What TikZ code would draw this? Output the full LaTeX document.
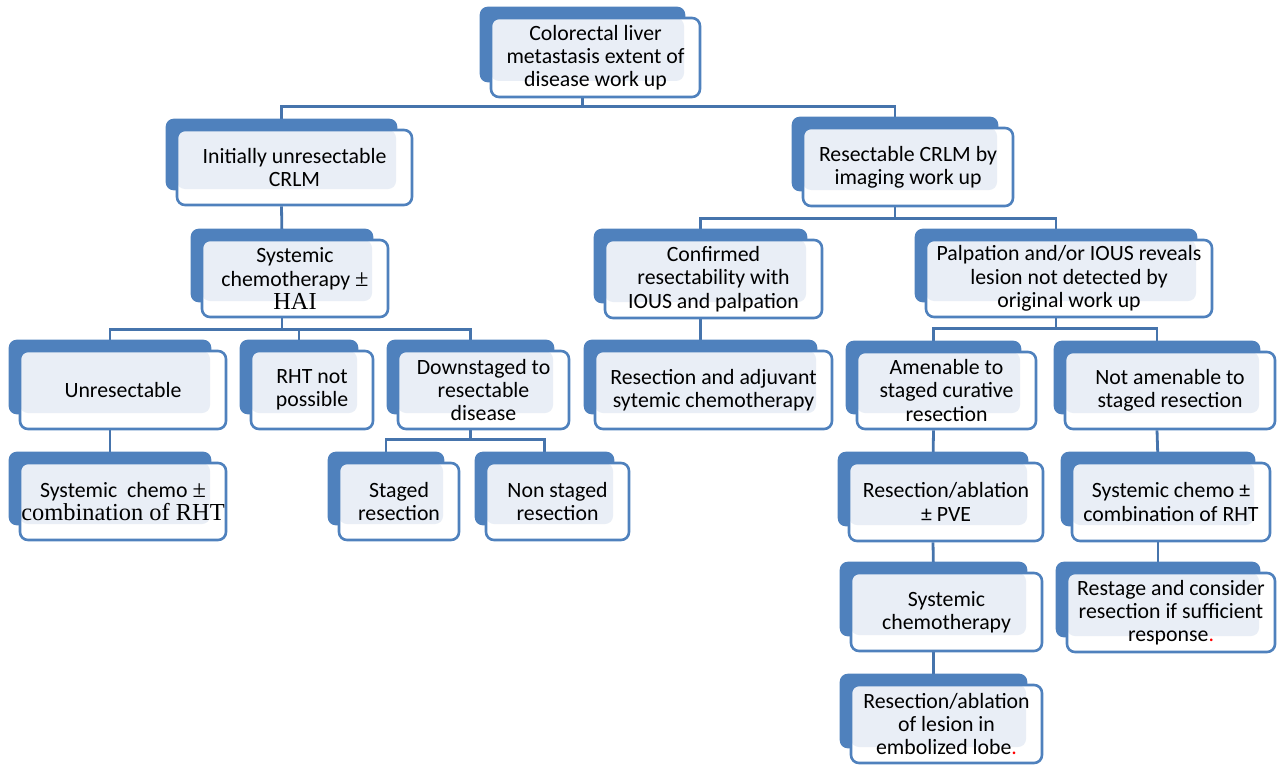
\documentclass[tikz,border=0pt]{standalone}
\usepackage{fontspec}
\setmainfont{Carlito}
\newfontfamily\timesfont{Liberation Serif}
\newcommand{\tnr}[1]{{\timesfont\fontsize{12.2}{11.6}\selectfont #1}}
\usetikzlibrary{calc,backgrounds}
\definecolor{boxblue}{RGB}{79,129,189}
\definecolor{paleblue}{RGB}{233,238,246}
\definecolor{linkblue}{RGB}{70,116,172}

\tikzset{
  crlm/.style 2 args={draw=boxblue, line width=1.3pt, fill=white, rounded corners=4pt,
    minimum width=#1*0.5pt, minimum height=#2*0.5pt, inner sep=0pt, align=center,
    font=\fontsize{10.9}{11.6}\selectfont,
    path picture={\fill[paleblue, rounded corners=4pt] (path picture bounding box.north west)
      rectangle ($(path picture bounding box.south east)+(-8pt,8pt)$);}},
  link/.style={linkblue, line width=1.4pt},
}

\begin{document}
\begin{tikzpicture}[x=0.5pt,y=-0.5pt]
\useasboundingbox (0,0) rectangle (1277,765);
% top
\node[crlm={209}{79}] (root) at (595.5,57.5) {Colorectal liver\\metastasis extent of\\disease work up};
% left branch
\node[crlm={235}{75}] (unres) at (294.5,167.5) {Initially unresectable\\CRLM};
\node[crlm={186}{77}] (chemohai) at (295,278.5) {Systemic\\chemotherapy \tnr{±}\\\tnr{HAI}};
\node[crlm={206}{78}] (unresect) at (123,390) {Unresectable};
\node[crlm={122}{78}] (rht) at (312,390) {RHT not\\possible};
\node[crlm={171}{78}] (down) at (483.5,390) {Downstaged to\\resectable\\disease};
\node[crlm={206}{77}] (sysrht) at (123,501.5) {Systemic\ \ chemo \tnr{±}\\\tnr{combination of RHT}};
\node[crlm={120}{77}] (staged) at (399,501.5) {Staged\\resection};
\node[crlm={143}{77}] (nonstaged) at (557.5,501.5) {Non staged\\resection};
% right branch
\node[crlm={210}{78}] (resec) at (908,167) {Resectable CRLM by\\imaging work up};
\node[crlm={217}{78}] (confirm) at (713.5,279) {Confirmed\\resectability with\\IOUS and palpation};
\node[crlm={286}{77}] (palp) at (1069,278.5) {Palpation and/or IOUS reveals\\lesion not detected by\\original work up};
\node[crlm={237}{78}] (adjuv) at (713.5,390) {Resection and adjuvant\\sytemic chemotherapy};
\node[crlm={179}{77}] (amen) at (946.5,390.5) {Amenable to\\staged curative\\resection};
\node[crlm={210}{77}] (notamen) at (1170,390.5) {Not amenable to\\staged resection};
\node[crlm={194}{78}] (pve) at (946,502) {Resection/ablation\\± PVE};
\node[crlm={198}{78}] (sysrht2) at (1171,502) {Systemic chemo ±\\combination of RHT};
\node[crlm={191}{78}] (syschemo) at (946.5,612) {Systemic\\chemotherapy};
\node[crlm={208}{79}] (restage) at (1171,612.5) {Restage and consider\\resection if sufficient\\response{\color{red}.}};
\node[crlm={191}{78}] (embol) at (946.5,724) {Resection/ablation\\of lesion in\\embolized lobe{\color{red}.}};

\begin{scope}[on background layer]
% connectors
\draw[link] ($(root.south)+(-13,0)$) -- ++(0,8) coordinate (bus0);
\draw[link] (bus0) -| ($(unres.north)+(-13,0)$);
\draw[link] (bus0) -| ($(resec.north)+(-13,0)$);
\draw[link] ($(unres.south)+(-13,0)$) -- ($(chemohai.north)+(-13,0)$);
\draw[link] ($(chemohai.south)+(-13,0)$) -- ++(0,11) coordinate (bus1);
\draw[link] (bus1) -| ($(unresect.north)+(-13,0)$);
\draw[link] (bus1) -| ($(rht.north)+(-13,0)$);
\draw[link] (bus1) -| ($(down.north)+(-13,0)$);
\draw[link] ($(unresect.south)+(-13,0)$) -- ($(sysrht.north)+(-13,0)$);
\draw[link] ($(down.south)+(-13,0)$) -- ++(0,9) coordinate (bus2);
\draw[link] (bus2) -| ($(staged.north)+(-13,0)$);
\draw[link] (bus2) -| ($(nonstaged.north)+(-13,0)$);
\draw[link] ($(resec.south)+(-13,0)$) -- ++(0,11) coordinate (bus3);
\draw[link] (bus3) -| ($(confirm.north)+(-13,0)$);
\draw[link] (bus3) -| ($(palp.north)+(-13,0)$);
\draw[link] ($(confirm.south)+(-13,0)$) -- ($(adjuv.north)+(-13,0)$);
\draw[link] ($(palp.south)+(-13,0)$) -- ++(0,10) coordinate (bus4);
\draw[link] (bus4) -| ($(amen.north)+(-13,0)$);
\draw[link] (bus4) -| ($(notamen.north)+(-13,0)$);
\draw[link] ($(amen.south)+(-13,0)$) -- ($(pve.north)+(-13,0)$);
\draw[link] ($(pve.south)+(-13,0)$) -- ($(syschemo.north)+(-13,0)$);
\draw[link] ($(syschemo.south)+(-13,0)$) -- ($(embol.north)+(-13,0)$);
\draw[link] ($(notamen.south)+(-13,0)$) -- ($(sysrht2.north)+(-13,0)$);
\draw[link] ($(sysrht2.south)+(-13,0)$) -- ($(restage.north)+(-13,0)$);
% blue backing shapes
\foreach \n in {root,unres,chemohai,unresect,rht,down,sysrht,staged,nonstaged,
  resec,confirm,palp,adjuv,amen,notamen,pve,sysrht2,syschemo,restage,embol}
  \fill[boxblue, rounded corners=4pt] ($(\n.north west)+(-10,-10)$) rectangle ($(\n.south east)+(-16,-16)$);
\end{scope}
\end{tikzpicture}
\end{document}
